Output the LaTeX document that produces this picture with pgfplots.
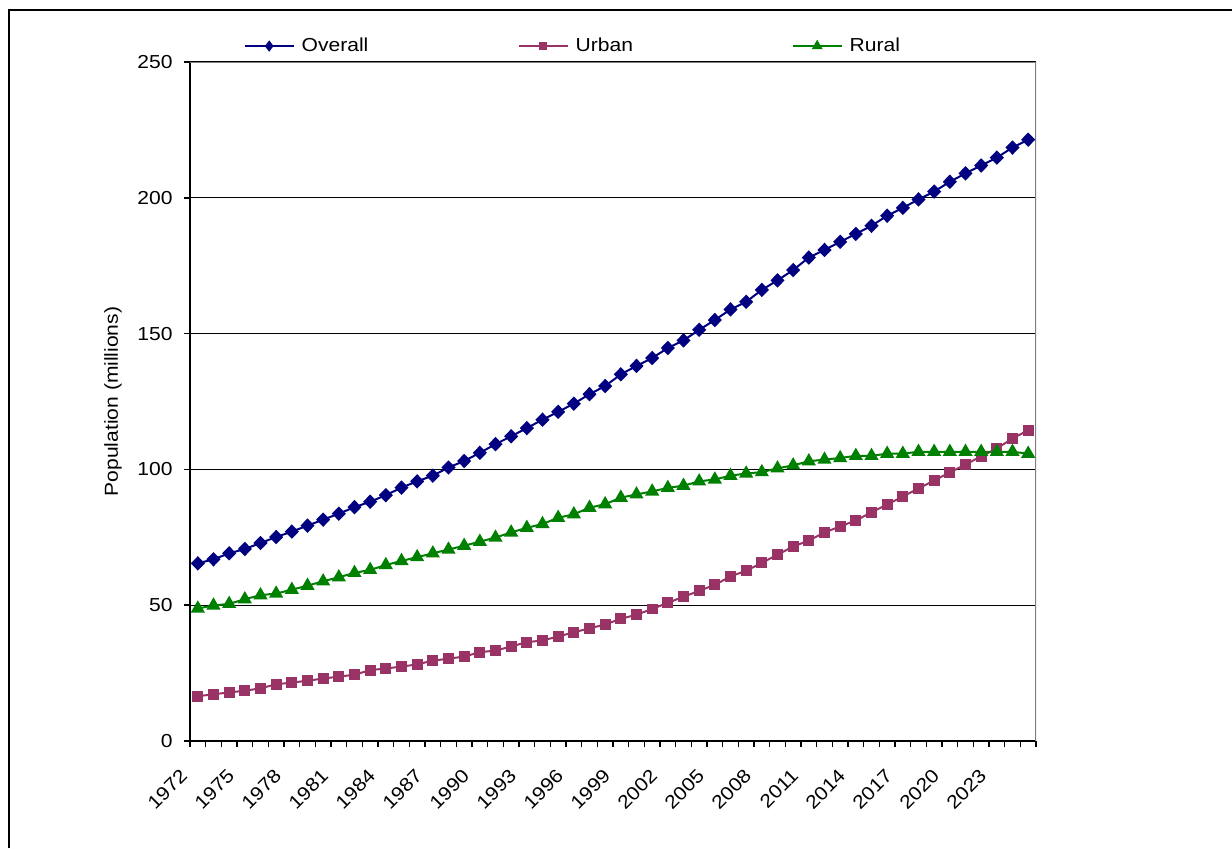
\documentclass[border=0pt]{standalone}
\usepackage{pgfplots}
\pgfplotsset{compat=1.18}
\usepackage{pgfplotstable}
\usepackage{fontspec}
\setmainfont{Liberation Sans}[FakeStretch=1.12]

\definecolor{overallc}{RGB}{0,0,128}
\definecolor{urbanc}{RGB}{153,51,102}
\definecolor{ruralc}{RGB}{0,128,0}

\newcommand{\chartfont}{\fontsize{9.4}{11}\selectfont}

% Population in millions, by year
\pgfplotstableread{
year overall urban rural
1972 65.4 16.5 48.8
1973 66.9 17.2 49.9
1974 69.1 17.9 50.5
1975 70.7 18.5 52.2
1976 72.9 19.4 53.7
1977 75.1 20.9 54.3
1978 77.1 21.5 55.7
1979 79.3 22.2 57.2
1980 81.5 23.0 58.8
1981 83.7 23.7 60.3
1982 86.1 24.4 61.9
1983 88.1 26.1 63.0
1984 90.5 26.7 64.8
1985 93.3 27.4 66.3
1986 95.6 28.2 67.7
1987 97.7 29.6 69.1
1988 100.7 30.3 70.5
1989 103.1 31.1 71.9
1990 106.1 32.7 73.4
1991 109.3 33.3 74.9
1992 112.2 34.8 76.8
1993 115.2 36.4 78.5
1994 118.3 37.0 79.9
1995 121.2 38.5 82.2
1996 124.2 40.0 83.5
1997 127.7 41.5 85.9
1998 130.7 42.9 87.2
1999 135.0 45.0 89.6
2000 138.1 46.5 90.8
2001 141.0 48.6 91.9
2002 144.7 50.9 93.2
2003 147.5 53.1 94.0
2004 151.4 55.3 95.6
2005 155.0 57.5 96.3
2006 158.9 60.6 97.7
2007 161.7 62.7 98.5
2008 166.1 65.6 99.0
2009 169.6 68.6 100.4
2010 173.4 71.6 101.5
2011 178.0 73.8 103.0
2012 180.8 76.8 103.6
2013 183.8 79.0 104.2
2014 186.7 81.2 105.0
2015 189.7 84.2 105.0
2016 193.4 87.1 105.8
2017 196.3 90.0 105.8
2018 199.4 93.0 106.5
2019 202.3 95.9 106.5
2020 205.9 98.9 106.5
2021 209.0 101.8 106.5
2022 211.9 104.8 106.5
2023 214.8 107.7 106.5
2024 218.5 111.4 106.5
2025 221.4 114.4 105.8
}\poptable

\begin{document}
\begin{tikzpicture}
\path[use as bounding box] (0,0) rectangle (616pt,424pt);
% outer chart frame
\draw[line width=0.7pt] (4.5pt,0) -- (4.5pt,419pt) -- (616pt,419pt);
\begin{axis}[
  at={(95pt,53.5pt)}, anchor=south west,
  width=423pt, height=339.5pt, scale only axis,
  xmin=1971.5, xmax=2025.5, ymin=0, ymax=250,
  axis lines*=left,
  axis line style={line width=0.8pt, black},
  tick align=outside,
  major tick length=0pt, minor tick length=3.2pt,
  tick style={line width=0.8pt, black},
  xtick={1972,1975,...,2023},
  minor xtick={1971.5,1972.5,...,2025.5},
  ytick={0,50,...,250},
  minor ytick={0,50,...,250},
  ymajorgrids,
  grid style={line width=0.6pt, black},
  /pgf/number format/1000 sep={},
  /pgf/number format/assume math mode=true,
  tick label style={font=\chartfont, inner sep=0pt},
  xticklabel style={xshift=-9.3pt, yshift=-13.2pt, rotate=45, anchor=north east},
  yticklabel style={xshift=-8.5pt, anchor=east},
  ylabel={Population (millions)},
  ylabel style={at={(axis description cs:-0.091,0.5)}, anchor=center, rotate=0,
    font=\chartfont},
  legend columns=3,
  legend style={at={(axis description cs:0.063,1.0235)}, anchor=west,
    draw=none, fill=none, inner sep=0pt, nodes={inner sep=0pt},
    font=\chartfont},
  legend image code/.code={
    \draw[mark repeat=2, mark phase=2, #1, mark options={scale=0.7}]
      plot coordinates {(0pt,0pt) (12.25pt,0pt) (24.5pt,0pt)};},
  every axis plot/.append style={line width=1pt},
]
\addplot[color=overallc, mark=diamond*, mark size=2.9pt,
  mark options={xscale=1.3, fill=overallc}]
  table[x=year, y=overall]{\poptable};
\addlegendentry{\hspace{3.5pt}\makebox[108pt][l]{Overall}}
\addplot[color=urbanc, mark=square*, mark size=2.2pt,
  mark options={fill=urbanc}]
  table[x=year, y=urban]{\poptable};
\addlegendentry{\hspace{3.5pt}\makebox[108pt][l]{Urban}}
\addplot[color=ruralc, mark=triangle*, mark size=3.1pt,
  mark options={fill=ruralc}]
  table[x=year, y=rural]{\poptable};
\addlegendentry{\hspace{3.5pt}\makebox[108pt][l]{Rural}}
% plot area border on top and right
\draw[line width=0.8pt, gray] (rel axis cs:0,1) -- (rel axis cs:1,1) -- (rel axis cs:1,0);
\end{axis}
\end{tikzpicture}
\end{document}
